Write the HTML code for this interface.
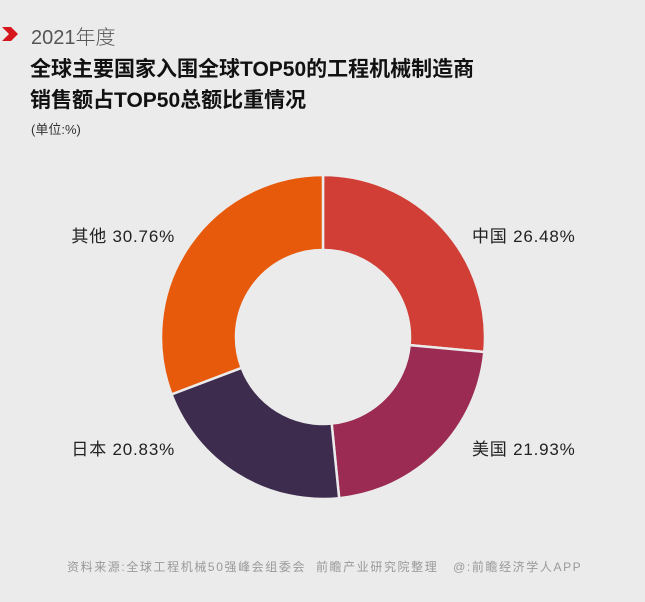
<!DOCTYPE html>
<html><head><meta charset="utf-8"><style>
body{margin:0;width:645px;height:602px;background:#ebebeb;font-family:"Liberation Sans","Noto Sans CJK SC",sans-serif;position:relative;overflow:hidden}
.t{position:absolute;white-space:nowrap}
</style></head><body>
<svg class="t" style="left:2px;top:27px" width="20" height="14"><polygon points="0,0 9,0 16,7 9,14 0,14 7,7" fill="#d6161d"/></svg>
<div class="t" style="left:31px;top:21px;font-size:20px;color:#555;font-weight:300">2021年度</div>
<div class="t" style="left:30px;top:54px;font-size:21px;font-weight:bold;color:#111;line-height:31px">全球主要国家入围全球TOP50的工程机械制造商<br>销售额占TOP50总额比重情况</div>
<div class="t" style="left:31px;top:119px;font-size:13px;color:#333">(单位:%)</div>
<svg id="c" class="t" style="left:0;top:0" width="645" height="602"></svg>
<div class="t" style="left:67px;top:558px;font-size:12px;letter-spacing:1.6px;color:#999">资料来源:全球工程机械50强峰会组委会&nbsp; 前瞻产业研究院整理 &nbsp; @:前瞻经济学人APP</div>
<script>
const categories=["中国","美国","日本","其他"];
const values=[26.48,21.93,20.83,30.76];
const colors=["#d03e35","#9b2b52","#3e2c4f","#e85a0b"];
const labelPos=[[472,242,"start"],[472,455,"start"],[175,455,"end"],[175,242,"end"]];
const svg=document.getElementById('c');const NS="http://www.w3.org/2000/svg";
const cx=323,cy=337,R=162,r=87;
const total=values.reduce((a,b)=>a+b,0);
let a0=-Math.PI/2;
function pt(rad,a){return [cx+rad*Math.cos(a),cy+rad*Math.sin(a)];}
values.forEach((v,i)=>{
 const a1=a0+v/total*2*Math.PI;const lg=(a1-a0)>Math.PI?1:0;
 const [x0,y0]=pt(R,a0),[x1,y1]=pt(R,a1),[x2,y2]=pt(r,a1),[x3,y3]=pt(r,a0);
 const p=document.createElementNS(NS,'path');
 p.setAttribute('d',`M${x0},${y0}A${R},${R} 0 ${lg} 1 ${x1},${y1}L${x2},${y2}A${r},${r} 0 ${lg} 0 ${x3},${y3}Z`);
 p.setAttribute('fill',colors[i]);p.setAttribute('stroke','#ebebeb');p.setAttribute('stroke-width','2.5');
 
 
 svg.appendChild(p);
 const t=document.createElementNS(NS,'text');
 t.setAttribute('x',labelPos[i][0]);t.setAttribute('y',labelPos[i][1]);t.setAttribute('text-anchor',labelPos[i][2]);
 t.setAttribute('font-size','17');t.setAttribute('letter-spacing','0.8');t.setAttribute('fill','#222');
 t.textContent=categories[i]+' '+v.toFixed(2)+'%';
 
 
 svg.appendChild(t);
 a0=a1;
});
</script>
</body></html>
